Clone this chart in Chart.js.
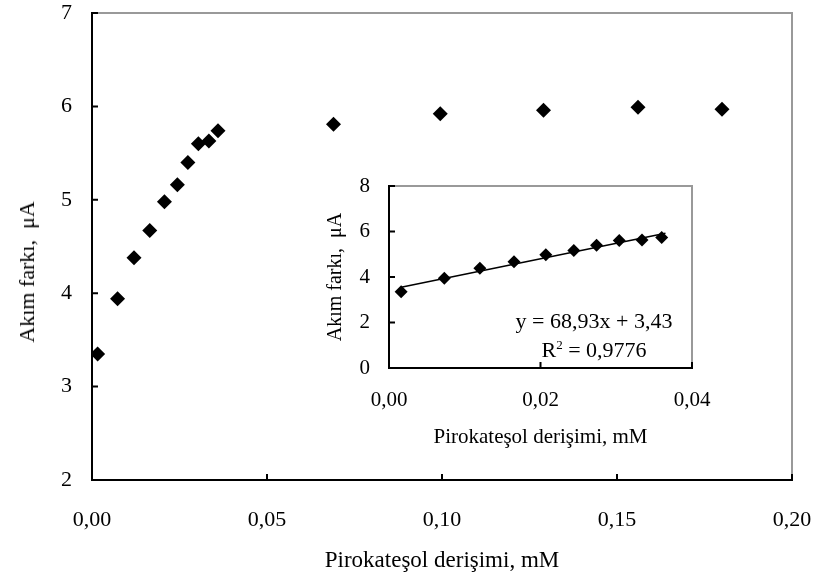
<!DOCTYPE html>
<html lang="tr">
<head>
<meta charset="UTF-8">
<script src="https://cdn.jsdelivr.net/npm/chart.js"></script>
<style>
  body { margin: 0; background: #fff; }
  .kutu { position: relative; width: 815px; height: 577px; font-family: "Liberation Serif", serif; }
  #grafik_ana { position: absolute; left: 0; top: 0; }
  #grafik_ic { position: absolute; left: 310px; top: 176px; }
  .yazi { position: absolute; color: #000; white-space: pre; }
  #y_baslik { left: 27px; top: 272px; font-size: 22px; transform: translate(-50%, -50%) rotate(-90deg); }
  .denklem { font-size: 22px; transform: translate(-50%, -50%); left: 594px; }
  .denklem sup { font-size: 13px; line-height: 0; }
</style>
<title>Pirokateşol</title>
</head>
<body>
<div class="kutu">
  <canvas id="grafik_ana" width="815" height="577"></canvas>
  <canvas id="grafik_ic" width="420" height="280"></canvas>
  <div class="yazi" id="y_baslik">Akım farkı,  μA</div>
  <div class="yazi denklem" style="top:321px">y = 68,93x + 3,43</div>
  <div class="yazi denklem" style="top:350px">R<sup>2</sup> = 0,9776</div>
</div>

<script>
  // derişim (mM) ve akım farkı (µA)
  const derisim = [0.0016, 0.0073, 0.0120, 0.0165, 0.0207, 0.0244, 0.0274, 0.0304, 0.0334, 0.0360, 0.069, 0.0995, 0.129, 0.156, 0.180];
  const akimFarki = [3.35, 3.94, 4.38, 4.67, 4.98, 5.16, 5.40, 5.60, 5.63, 5.74, 5.81, 5.92, 5.96, 5.99, 5.97];
  const icNoktaSayisi = 10; // iç grafikteki doğrusal bölge
  const trendX = [0.0016, 0.0365];
  const trendY = [3.55, 5.92];

  const anaXTicks = [0, 0.05, 0.10, 0.15, 0.20];
  const anaYTicks = [2, 3, 4, 5, 6, 7];
  const icXTicks = [0, 0.02, 0.04];
  const icYTicks = [0, 2, 4, 6, 8];

  const font = "'Liberation Serif', 'Times New Roman', serif";

  function virgul(v, n) {
    return Number(v).toFixed(n).replace('.', ',');
  }

  // etiketlerin taşma payını sıfırla, alan layout.padding ile belirlensin
  function sabitle(s, boyut) {
    if (s.isHorizontal()) s.height = boyut; else s.width = boyut;
    s.paddingLeft = 0;
    s.paddingRight = 0;
    s.paddingTop = 0;
    s.paddingBottom = 0;
  }

  // sağ ve üst gri çerçeve + içe dönük tik çizgileri
  const cerceve = {
    id: 'cerceve',
    afterDraw(chart) {
      const ctx = chart.ctx;
      const a = chart.chartArea;
      ctx.save();
      ctx.strokeStyle = '#999';
      ctx.lineWidth = 2;
      ctx.beginPath();
      ctx.moveTo(a.left, a.top);
      ctx.lineTo(a.right, a.top);
      ctx.lineTo(a.right, a.bottom);
      ctx.stroke();
      ctx.strokeStyle = '#000';
      ctx.lineWidth = 2;
      ctx.beginPath();
      chart.scales.x.ticks.forEach(t => {
        const px = chart.scales.x.getPixelForValue(t.value);
        ctx.moveTo(px, a.bottom);
        ctx.lineTo(px, a.bottom - 6);
      });
      chart.scales.y.ticks.forEach(t => {
        const py = chart.scales.y.getPixelForValue(t.value);
        ctx.moveTo(a.left, py);
        ctx.lineTo(a.left + 6, py);
      });
      ctx.stroke();
      ctx.restore();
    }
  };

  function noktalar(xs, ys) {
    return xs.map((x, i) => ({ x: x, y: ys[i] }));
  }

  new Chart(document.getElementById('grafik_ana'), {
    type: 'scatter',
    data: {
      datasets: [{
        data: noktalar(derisim, akimFarki),
        pointStyle: 'rectRot',
        pointRadius: 7.5,
        backgroundColor: '#000',
        borderColor: '#000',
        borderWidth: 0
      }]
    },
    options: {
      responsive: false,
      animation: false,
      layout: { padding: { left: 0, right: 23, top: 13, bottom: 0 } },
      plugins: { legend: { display: false }, tooltip: { enabled: false } },
      scales: {
        x: {
          type: 'linear', min: 0, max: 0.2,
          afterBuildTicks: s => { s.ticks = anaXTicks.map(v => ({ value: v })); },
          afterFit: s => sabitle(s, 97),
          grid: { display: false, drawTicks: false },
          border: { display: true, color: '#000', width: 2 },
          ticks: { color: '#000', padding: 27, font: { family: font, size: 22 }, callback: v => virgul(v, 2) },
          title: { display: true, text: 'Pirokateşol derişimi, mM', color: '#000', font: { family: font, size: 23 }, padding: { top: 0, bottom: 2 } }
        },
        y: {
          type: 'linear', min: 2, max: 7,
          afterBuildTicks: s => { s.ticks = anaYTicks.map(v => ({ value: v })); },
          afterFit: s => sabitle(s, 92),
          grid: { display: false, drawTicks: false },
          border: { display: true, color: '#000', width: 2 },
          ticks: { color: '#000', padding: 20, font: { family: font, size: 22 }, callback: v => String(v) }
        }
      }
    },
    plugins: [cerceve]
  });

  new Chart(document.getElementById('grafik_ic'), {
    type: 'scatter',
    data: {
      datasets: [{
        data: noktalar(derisim.slice(0, icNoktaSayisi), akimFarki.slice(0, icNoktaSayisi)),
        pointStyle: 'rectRot',
        pointRadius: 6.5,
        backgroundColor: '#000',
        borderColor: '#000',
        borderWidth: 0
      }, {
        data: noktalar(trendX, trendY),
        showLine: true,
        pointRadius: 0,
        borderColor: '#000',
        borderWidth: 1.5
      }]
    },
    options: {
      responsive: false,
      animation: false,
      layout: { padding: { left: 0, right: 38, top: 10, bottom: 0 } },
      plugins: { legend: { display: false }, tooltip: { enabled: false } },
      scales: {
        x: {
          type: 'linear', min: 0, max: 0.04,
          afterBuildTicks: s => { s.ticks = icXTicks.map(v => ({ value: v })); },
          afterFit: s => sabitle(s, 88),
          grid: { display: false, drawTicks: false },
          border: { display: true, color: '#000', width: 2 },
          ticks: { color: '#000', padding: 20, font: { family: font, size: 21 }, callback: v => virgul(v, 2) },
          title: { display: true, text: 'Pirokateşol derişimi, mM', color: '#000', font: { family: font, size: 21 }, padding: { top: 0, bottom: 6 } }
        },
        y: {
          type: 'linear', min: 0, max: 8,
          afterBuildTicks: s => { s.ticks = icYTicks.map(v => ({ value: v })); },
          afterFit: s => sabitle(s, 79),
          grid: { display: false, drawTicks: false },
          border: { display: true, color: '#000', width: 2 },
          ticks: { color: '#000', padding: 19, font: { family: font, size: 21 }, callback: v => String(v) },
          title: { display: true, text: 'Akım farkı,  μA', color: '#000', font: { family: font, size: 20 }, padding: { top: 14, bottom: 0 } }
        }
      }
    },
    plugins: [cerceve]
  });
</script>
</body>
</html>
